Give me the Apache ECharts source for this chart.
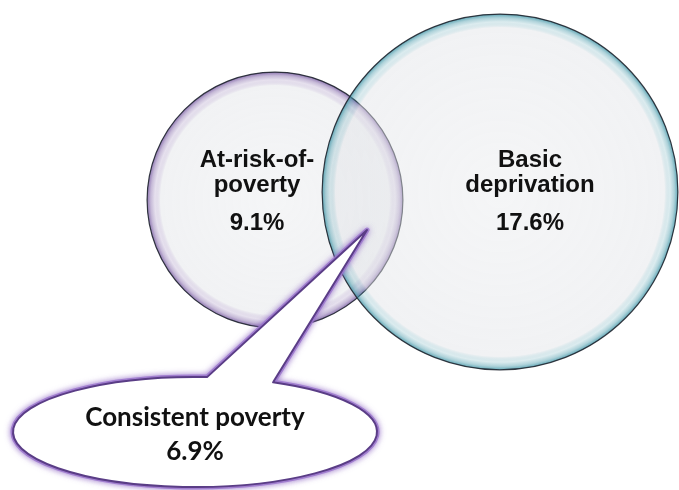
<!DOCTYPE html>
<html><head><meta charset="utf-8">
<script src="https://cdn.jsdelivr.net/npm/echarts@6/dist/echarts.min.js"></script>
<style>html,body{margin:0;padding:0;background:#fff}#c{width:679px;height:490px}</style>
</head><body><div id="c"></div>
<script>
// ---- data ----
const setNames = ['At-risk-of-\npoverty', 'Basic\ndeprivation'];
const setValues = [9.1, 17.6];          // % of population
const overlapName = 'Consistent poverty';
const overlapValue = 6.9;               // %

// ---- layout (axis units == pixels) ----
const layout = {
  k: 42.4,                               // radius = k * sqrt(value)
  centers: [[275, 200], [500, 192]],
  namePos: [[257, 173], [530, 173]],
  valuePos: [[257, 223], [530, 223]],
  callout: { cx: 195, cy: 432, rx: 182, ry: 55, tip: [367, 230], baseAngles: [64.6, 86.2], textY: [418, 452] }
};
const rimColors = [[118, 88, 160], [62, 148, 166]];
const rimWidth = 14;

function radial(rgb, r) {
  const c = rgb.join(',');
  const o = 1 - rimWidth / r;
  const s = 1 - o;
  return {
    type: 'radial', x: 0.5, y: 0.5, r: 0.5,
    colorStops: [
      { offset: 0, color: 'rgba(230,232,235,0.42)' },
      { offset: o, color: 'rgba(226,228,232,0.48)' },
      { offset: o + s * 0.4, color: 'rgba(' + c + ',0.18)' },
      { offset: o + s * 0.7, color: 'rgba(' + c + ',0.42)' },
      { offset: o + s * 0.9, color: 'rgba(' + c + ',0.72)' },
      { offset: 1, color: 'rgba(' + c + ',0.95)' }
    ]
  };
}

const chart = echarts.init(document.getElementById('c'), null, { renderer: 'canvas' });

function renderSet(params, api) {
  const i = api.value(0);
  const c = api.coord(layout.centers[i]);
  const r = api.size([layout.k * Math.sqrt(setValues[i]), 0])[0];
  return {
    type: 'circle', shape: { cx: c[0], cy: c[1], r: r },
    style: { fill: radial(rimColors[i], r), stroke: 'rgba(30,35,45,0.9)', lineWidth: 1.2 }
  };
}

function renderLabels(params, api) {
  const i = api.value(0);
  const np = api.coord(layout.namePos[i]);
  const vp = api.coord(layout.valuePos[i]);
  const font = 'bold 24px "Liberation Sans", Arial, sans-serif';
  return {
    type: 'group',
    children: [
      { type: 'text', style: { text: setNames[i], x: np[0], y: np[1], align: 'center', verticalAlign: 'middle', font: font, lineHeight: 25, fill: '#111' } },
      { type: 'text', style: { text: setValues[i].toFixed(1) + '%', x: vp[0], y: vp[1], align: 'center', verticalAlign: 'middle', font: font, fill: '#111' } }
    ]
  };
}

function renderCallout(params, api) {
  const L = layout.callout;
  const c = api.coord([L.cx, L.cy]);
  const rx = api.size([L.rx, 0])[0];
  const ry = api.size([0, L.ry])[1];
  const t = api.coord(L.tip);
  const a1 = L.baseAngles[0] * Math.PI / 180, a2 = L.baseAngles[1] * Math.PI / 180;
  const p1 = [c[0] + rx * Math.cos(a1), c[1] - ry * Math.sin(a1)];
  const p2 = [c[0] + rx * Math.cos(a2), c[1] - ry * Math.sin(a2)];
  const d = 'M' + p1[0] + ' ' + p1[1] + ' L' + t[0] + ' ' + t[1] + ' L' + p2[0] + ' ' + p2[1] +
    ' A' + rx + ' ' + ry + ' 0 1 0 ' + p1[0] + ' ' + p1[1] + ' Z';
  const ty = [api.coord([0, L.textY[0]])[1], api.coord([0, L.textY[1]])[1]];
  const font = 'bold 26px Lato, "Open Sans", sans-serif';
  return {
    type: 'group',
    children: [
      { type: 'path', shape: { pathData: d },
        style: { fill: '#fff', stroke: 'rgba(155,118,205,0.85)', lineWidth: 5, lineJoin: 'round', shadowBlur: 6, shadowColor: 'rgba(140,100,195,0.85)' } },
      { type: 'path', shape: { pathData: d },
        style: { fill: '#fff', stroke: '#5a3d86', lineWidth: 2, lineJoin: 'round' } },
      { type: 'text', style: { text: overlapName, x: c[0], y: ty[0], align: 'center', verticalAlign: 'middle', font: font, fill: '#111' } },
      { type: 'text', style: { text: overlapValue.toFixed(1) + '%', x: c[0], y: ty[1], align: 'center', verticalAlign: 'middle', font: font, fill: '#111' } }
    ]
  };
}

chart.setOption({
  animation: false,
  grid: { left: 0, right: 0, top: 0, bottom: 0 },
  xAxis: { type: 'value', min: 0, max: 679, show: false },
  yAxis: { type: 'value', min: 0, max: 490, inverse: true, show: false },
  series: [
    { type: 'custom', renderItem: renderSet, data: [[0], [1]], silent: true, clip: false },
    { type: 'custom', renderItem: renderCallout, data: [[0]], silent: true, clip: false },
    { type: 'custom', renderItem: renderLabels, data: [[0], [1]], silent: true, clip: false }
  ]
});
</script></body></html>
